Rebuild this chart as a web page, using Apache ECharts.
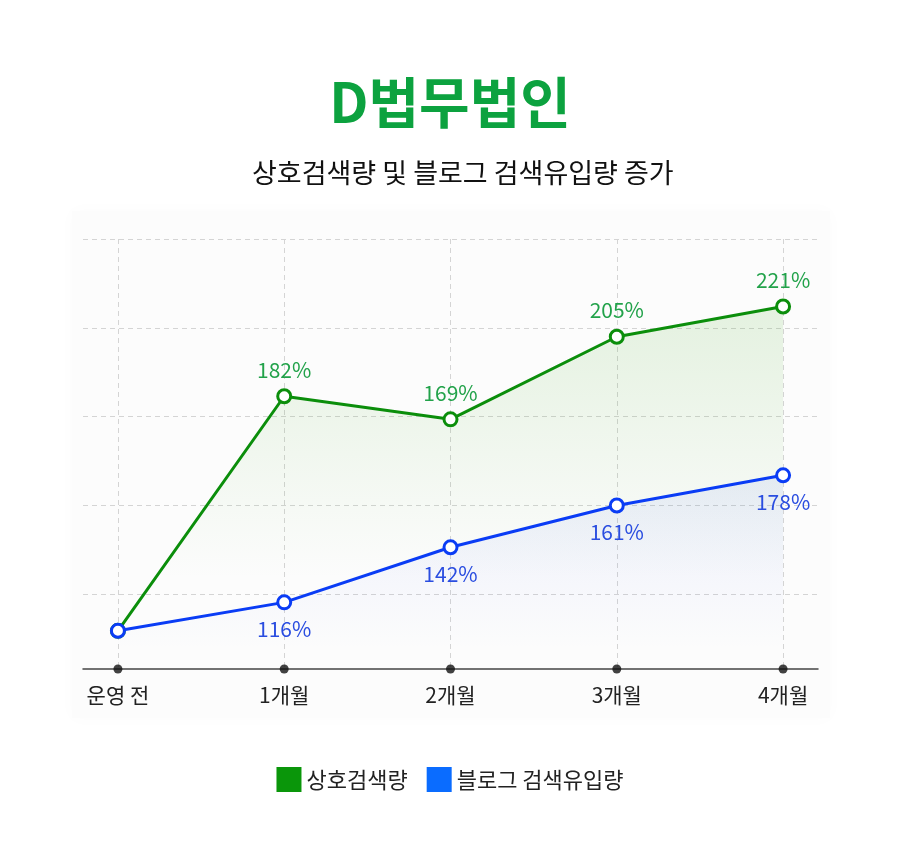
<!DOCTYPE html>
<html>
<head>
<meta charset="utf-8">
<script src="https://cdn.jsdelivr.net/npm/echarts@6/dist/echarts.min.js"></script>
<style>
  html, body { margin: 0; padding: 0; background: #ffffff; }
  #chart { width: 900px; height: 857px; }
</style>
</head>
<body>
<div id="chart"></div>
<script>
// ---- data ----
const categories = ['운영 전', '1개월', '2개월', '3개월', '4개월'];
const seriesNames = ['상호검색량', '블로그 검색유입량'];
// displayed growth labels (%)
const searchPct = [100, 182, 169, 205, 221];
const blogPct = [100, 116, 142, 161, 178];
// plotted heights as drawn in the picture (gridline units; chart is not to linear scale)
const searchLevel = [-0.41, 2.23, 1.97, 2.90, 3.24];
const blogLevel = [-0.41, -0.09, 0.53, 1.00, 1.34];
const yMin = -0.84;
const yMax = 4;

const FONT = 'Noto Sans CJK KR';
const GREEN = '#0b8e0b';
const GREEN_LABEL = '#22a24a';
const BLUE = '#0a3cf5';
const BLUE_LABEL = '#2a4de0';

const chart = echarts.init(document.getElementById('chart'), null, { renderer: 'canvas' });

const toPoints = arr => arr.map((v, i) => [i, v]);

const option = {
  backgroundColor: '#ffffff',
  textStyle: { fontFamily: FONT },
  graphic: [{
    type: 'rect',
    z: -10,
    silent: true,
    shape: { x: 72, y: 211, width: 758, height: 507 },
    style: { fill: '#fcfcfc', shadowBlur: 16, shadowColor: '#fbfbfb' }
  }],
  title: [
    {
      text: 'D법무법인',
      left: 'center',
      top: 70,
      textStyle: { fontFamily: FONT, fontSize: 55, fontWeight: 'bold', color: '#0ca23f' }
    },
    {
      text: '상호검색량 및 블로그 검색유입량 증가',
      left: 247,
      top: 154,
      textStyle: { fontFamily: FONT, fontSize: 27, fontWeight: 'normal', color: '#111111' }
    }
  ],
  legend: {
    top: 762,
    left: 'center',
    icon: 'rect',
    itemWidth: 25,
    itemHeight: 25,
    itemGap: 19,
    textStyle: { fontFamily: FONT, fontSize: 22, color: '#222222' },
    data: [
      { name: seriesNames[0], itemStyle: { color: '#0a960a', borderWidth: 0 } },
      { name: seriesNames[1], itemStyle: { color: '#0a6cff', borderWidth: 0 } }
    ]
  },
  grid: { left: 83, right: 82, top: 239, bottom: 188, containLabel: false },
  xAxis: {
    type: 'value',
    min: -0.21,
    max: 4.21,
    axisLine: { show: true, onZero: false, lineStyle: { color: '#444444', width: 1.5 } },
    axisTick: { show: false },
    axisLabel: {
      margin: 16,
      fontFamily: FONT,
      fontSize: 21,
      color: '#222222',
      showMinLabel: false,
      showMaxLabel: false,
      formatter: v => (Number.isInteger(v) && categories[v] !== undefined) ? categories[v] : ''
    },
    splitLine: {
      show: true,
      showMinLine: false,
      showMaxLine: false,
      lineStyle: { color: '#d4d4d4', width: 1, type: [5, 4] }
    }
  },
  yAxis: {
    type: 'value',
    min: yMin,
    max: yMax,
    axisLine: { show: false },
    axisTick: { show: false },
    axisLabel: { show: false },
    splitLine: {
      show: true,
      showMinLine: false,
      lineStyle: { color: '#d4d4d4', width: 1, type: [5, 4] }
    }
  },
  series: [
    {
      name: seriesNames[0],
      type: 'line',
      data: toPoints(searchLevel),
      z: 3,
      symbol: 'circle',
      symbolSize: 13,
      lineStyle: { color: GREEN, width: 3 },
      itemStyle: { color: '#ffffff', borderColor: GREEN, borderWidth: 3 },
      areaStyle: {
        origin: 'start',
        color: new echarts.graphic.LinearGradient(0, 0, 0, 1, [
          { offset: 0, color: 'rgba(80,175,50,0.20)' },
          { offset: 0.75, color: 'rgba(80,175,50,0.0)' }
        ])
      },
      label: {
        show: true,
        position: 'top',
        distance: 8,
        fontFamily: FONT,
        fontSize: 21,
        color: GREEN_LABEL,
        formatter: p => p.dataIndex === 0 ? '' : searchPct[p.dataIndex] + '%'
      },
      emphasis: { disabled: true }
    },
    {
      name: seriesNames[1],
      type: 'line',
      data: toPoints(blogLevel),
      z: 4,
      symbol: 'circle',
      symbolSize: 13,
      lineStyle: { color: BLUE, width: 3 },
      itemStyle: { color: '#ffffff', borderColor: BLUE, borderWidth: 3 },
      areaStyle: {
        origin: 'start',
        color: new echarts.graphic.LinearGradient(0, 0, 0, 1, [
          { offset: 0, color: 'rgba(70,100,240,0.13)' },
          { offset: 0.9, color: 'rgba(70,100,240,0.0)' }
        ])
      },
      label: {
        show: true,
        position: 'bottom',
        distance: 8,
        fontFamily: FONT,
        fontSize: 21,
        color: BLUE_LABEL,
        formatter: p => p.dataIndex === 0 ? '' : blogPct[p.dataIndex] + '%'
      },
      emphasis: { disabled: true }
    },
    {
      name: 'axisDots',
      type: 'scatter',
      data: categories.map((c, i) => [i, yMin]),
      symbol: 'circle',
      symbolSize: 9,
      clip: false,
      z: 5,
      silent: true,
      itemStyle: { color: '#111111' },
      emphasis: { disabled: true }
    }
  ]
};

chart.setOption(option);
</script>
</body>
</html>
